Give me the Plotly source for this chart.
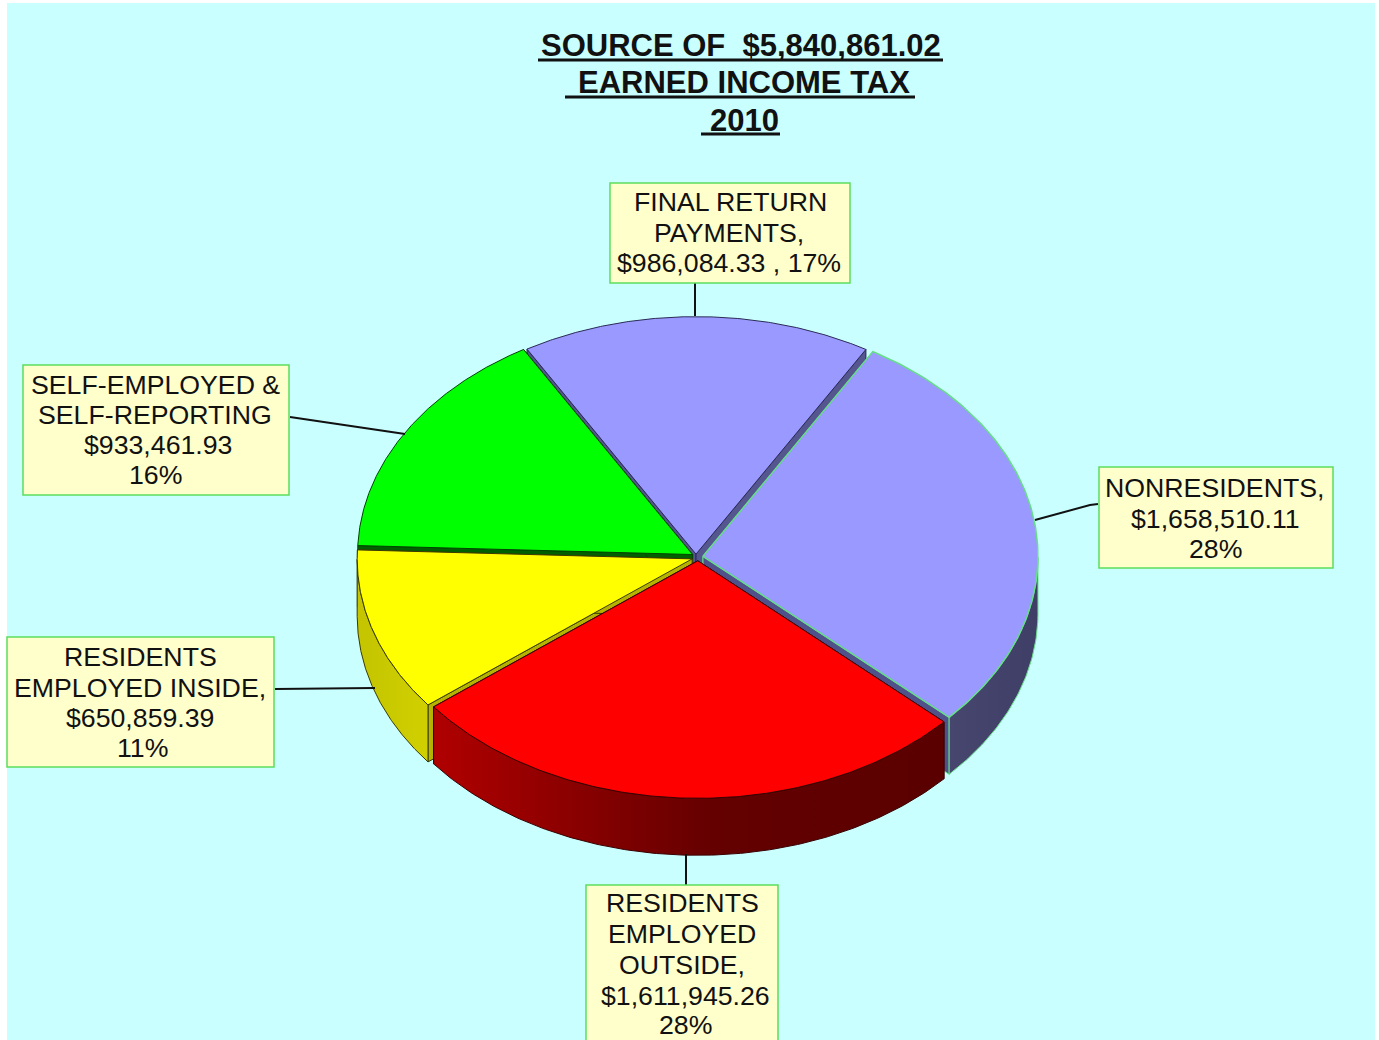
import numpy as np
import plotly.graph_objects as go

# Earned income tax receipts by source, clockwise from the top slice
sources = ["Final return payments", "Nonresidents", "Residents employed outside",
           "Residents employed inside", "Self-employed & self-reporting"]
amounts = [986084.33, 1658510.11, 1611945.26, 650859.39, 933461.93]
title_lines = ["SOURCE OF  $5,840,861.02", " EARNED INCOME TAX", " 2010"]
label_lines = [
    ["FINAL RETURN", "PAYMENTS,", "$986,084.33 , 17%"],
    ["NONRESIDENTS,", "$1,658,510.11", "28%"],
    ["RESIDENTS", "EMPLOYED", "OUTSIDE,", "$1,611,945.26", "28%"],
    ["RESIDENTS", "EMPLOYED INSIDE,", "$650,859.39", "11%"],
    ["SELF-EMPLOYED &", "SELF-REPORTING", "$933,461.93", "16%"],
]

# Tilted pie geometry, in page pixels
CX, CY = 696.0, 557.0
RX, RY = 335.0, 237.5
DEPTH = 57.0
START_DEG = 120.3
EXPLODE = [0.012, 0.021, 0.016, 0.012, 0.012]
SHIFT_X = [0, 0, 2, 0, 0]
SHIFT_Y = [0, 0, 0, 1, -1]

top_colors = ["#9999FF", "#9999FF", "#FF0000", "#FFFF00", "#00FF00"]
edge_colors = ["#2A2A55", "#66DD88", "#3A0000", "#3A3A00", "#004400"]
radial_colors = ["#55558F", "#50508A", "#8A0000", "#B4B400", "#006000"]
rim_scales = [
    None,
    [[0, "#46466F"], [1, "#3E3E66"]],
    [[0, "#B00000"], [0.55, "#640000"], [1, "#5A0000"]],
    [[0, "#C4C400"], [1, "#D0D000"]],
    None,
]
# Back-to-front drawing order
paint_order = [0, 4, 1, 3, 2]

# Box edges (x0, y0, x1, y1), line centres and text centre for each label
boxes = [(610, 183, 850, 283), (1099, 467, 1333, 568), (586, 885, 778, 1046),
         (7, 637, 274, 767), (23, 365, 289, 495)]
line_y = [[202, 233, 263], [488, 519, 549], [903, 934, 965, 996, 1025],
          [657, 688, 718, 748], [385, 415, 445, 475]]
line_x = [[730, 729, 729], [1214, 1215, 1215], [682, 682, 682, 685, 685],
          [140, 140, 140, 142], [155, 155, 158, 155]]
leaders = [([695, 695], [283, 316]), ([1098, 1090, 1035], [504, 505, 520]),
           ([686, 686], [854, 885]), ([275, 375], [689, 688]), ([290, 405], [417, 434])]

fractions = np.array(amounts) / sum(amounts)
ends = START_DEG - 360.0 * np.cumsum(fractions)
starts = np.concatenate([[START_DEG], ends[:-1]])

fig = go.Figure()


def poly(xs, ys, fill=None, line="#222222", width=1.0, gradient=None):
    kw = dict(x=list(xs), y=list(ys), mode="lines", fill="toself",
              line=dict(color=line, width=width), hoverinfo="skip", showlegend=False)
    if gradient is not None:
        kw["fillgradient"] = dict(type="horizontal", colorscale=gradient)
    else:
        kw["fillcolor"] = fill
    fig.add_trace(go.Scatter(**kw))


for i in paint_order:
    a0, a1 = starts[i], ends[i]
    mid = np.radians((a0 + a1) / 2)
    cx = CX + EXPLODE[i] * RX * np.cos(mid) + SHIFT_X[i]
    cy = CY - EXPLODE[i] * RY * np.sin(mid) + SHIFT_Y[i]
    theta = np.radians(np.linspace(a0, a1, 160))
    rim_x = cx + RX * np.cos(theta)
    rim_y = cy - RY * np.sin(theta)

    # Cut faces along both radii
    for end in (0, -1):
        poly([cx, rim_x[end], rim_x[end], cx, cx],
             [cy, rim_y[end], rim_y[end] + DEPTH, cy + DEPTH, cy],
             fill=radial_colors[i], line=edge_colors[i])

    # Outer wall, only where the rim faces the viewer
    front = np.sin(theta) <= 0
    if front.any() and rim_scales[i] is not None:
        fx, fy = rim_x[front], rim_y[front]
        poly(np.concatenate([fx, fx[::-1], fx[:1]]),
             np.concatenate([fy, fy[::-1] + DEPTH, fy[:1]]),
             gradient=rim_scales[i], line=edge_colors[i])

    # Top face
    poly(np.concatenate([[cx], rim_x, [cx]]), np.concatenate([[cy], rim_y, [cy]]),
         fill=top_colors[i], line=edge_colors[i], width=1.5 if i == 1 else 1.0)

for xs, ys in leaders:
    fig.add_trace(go.Scatter(x=xs, y=ys, mode="lines", line=dict(color="#111111", width=2),
                             hoverinfo="skip", showlegend=False))

shapes = [dict(type="rect", x0=7, y0=3, x1=1375, y1=1046, layer="below",
               fillcolor="#C9FFFF", line=dict(width=0))]
annotations = []


def add_text(x, y, text, size, weight="normal"):
    annotations.append(dict(x=x, y=y, xref="x", yref="y", text=text, showarrow=False,
                            xanchor="center", yanchor="middle",
                            font=dict(family="Liberation Sans", size=size, color="#111111",
                                      weight=weight)))


for (x0, y0, x1, y1), lines, ys, xs in zip(boxes, label_lines, line_y, line_x):
    shapes.append(dict(type="rect", x0=x0, y0=y0, x1=x1, y1=y1, layer="above",
                       fillcolor="#FFFFCC", line=dict(color="#5CDD5C", width=1.5)))
    for x, y, text in zip(xs, ys, lines):
        add_text(x, y, text, 26.7)

# Title lines with hand-placed rules beneath them
title_y = [45, 82, 120]
title_x = [741, 744, 744]
rules = [(538, 943, 60), (565, 915, 97), (701, 780, 134)]
for text, x, y in zip(title_lines, title_x, title_y):
    add_text(x, y, text.replace("  ", "\u00a0\u00a0").lstrip(), 31, weight="bold")
for x0, x1, y in rules:
    shapes.append(dict(type="line", x0=x0, x1=x1, y0=y, y1=y, layer="above",
                       line=dict(color="#111111", width=3)))

fig.update_layout(
    width=1379, height=1040, autosize=False,
    margin=dict(l=0, r=0, t=0, b=0),
    paper_bgcolor="#FFFFFF", plot_bgcolor="#FFFFFF",
    xaxis=dict(range=[0, 1379], visible=False, fixedrange=True),
    yaxis=dict(range=[1040, 0], visible=False, fixedrange=True),
    shapes=shapes, annotations=annotations, showlegend=False,
)
fig.write_html("out.html", config=dict(displayModeBar=False))
